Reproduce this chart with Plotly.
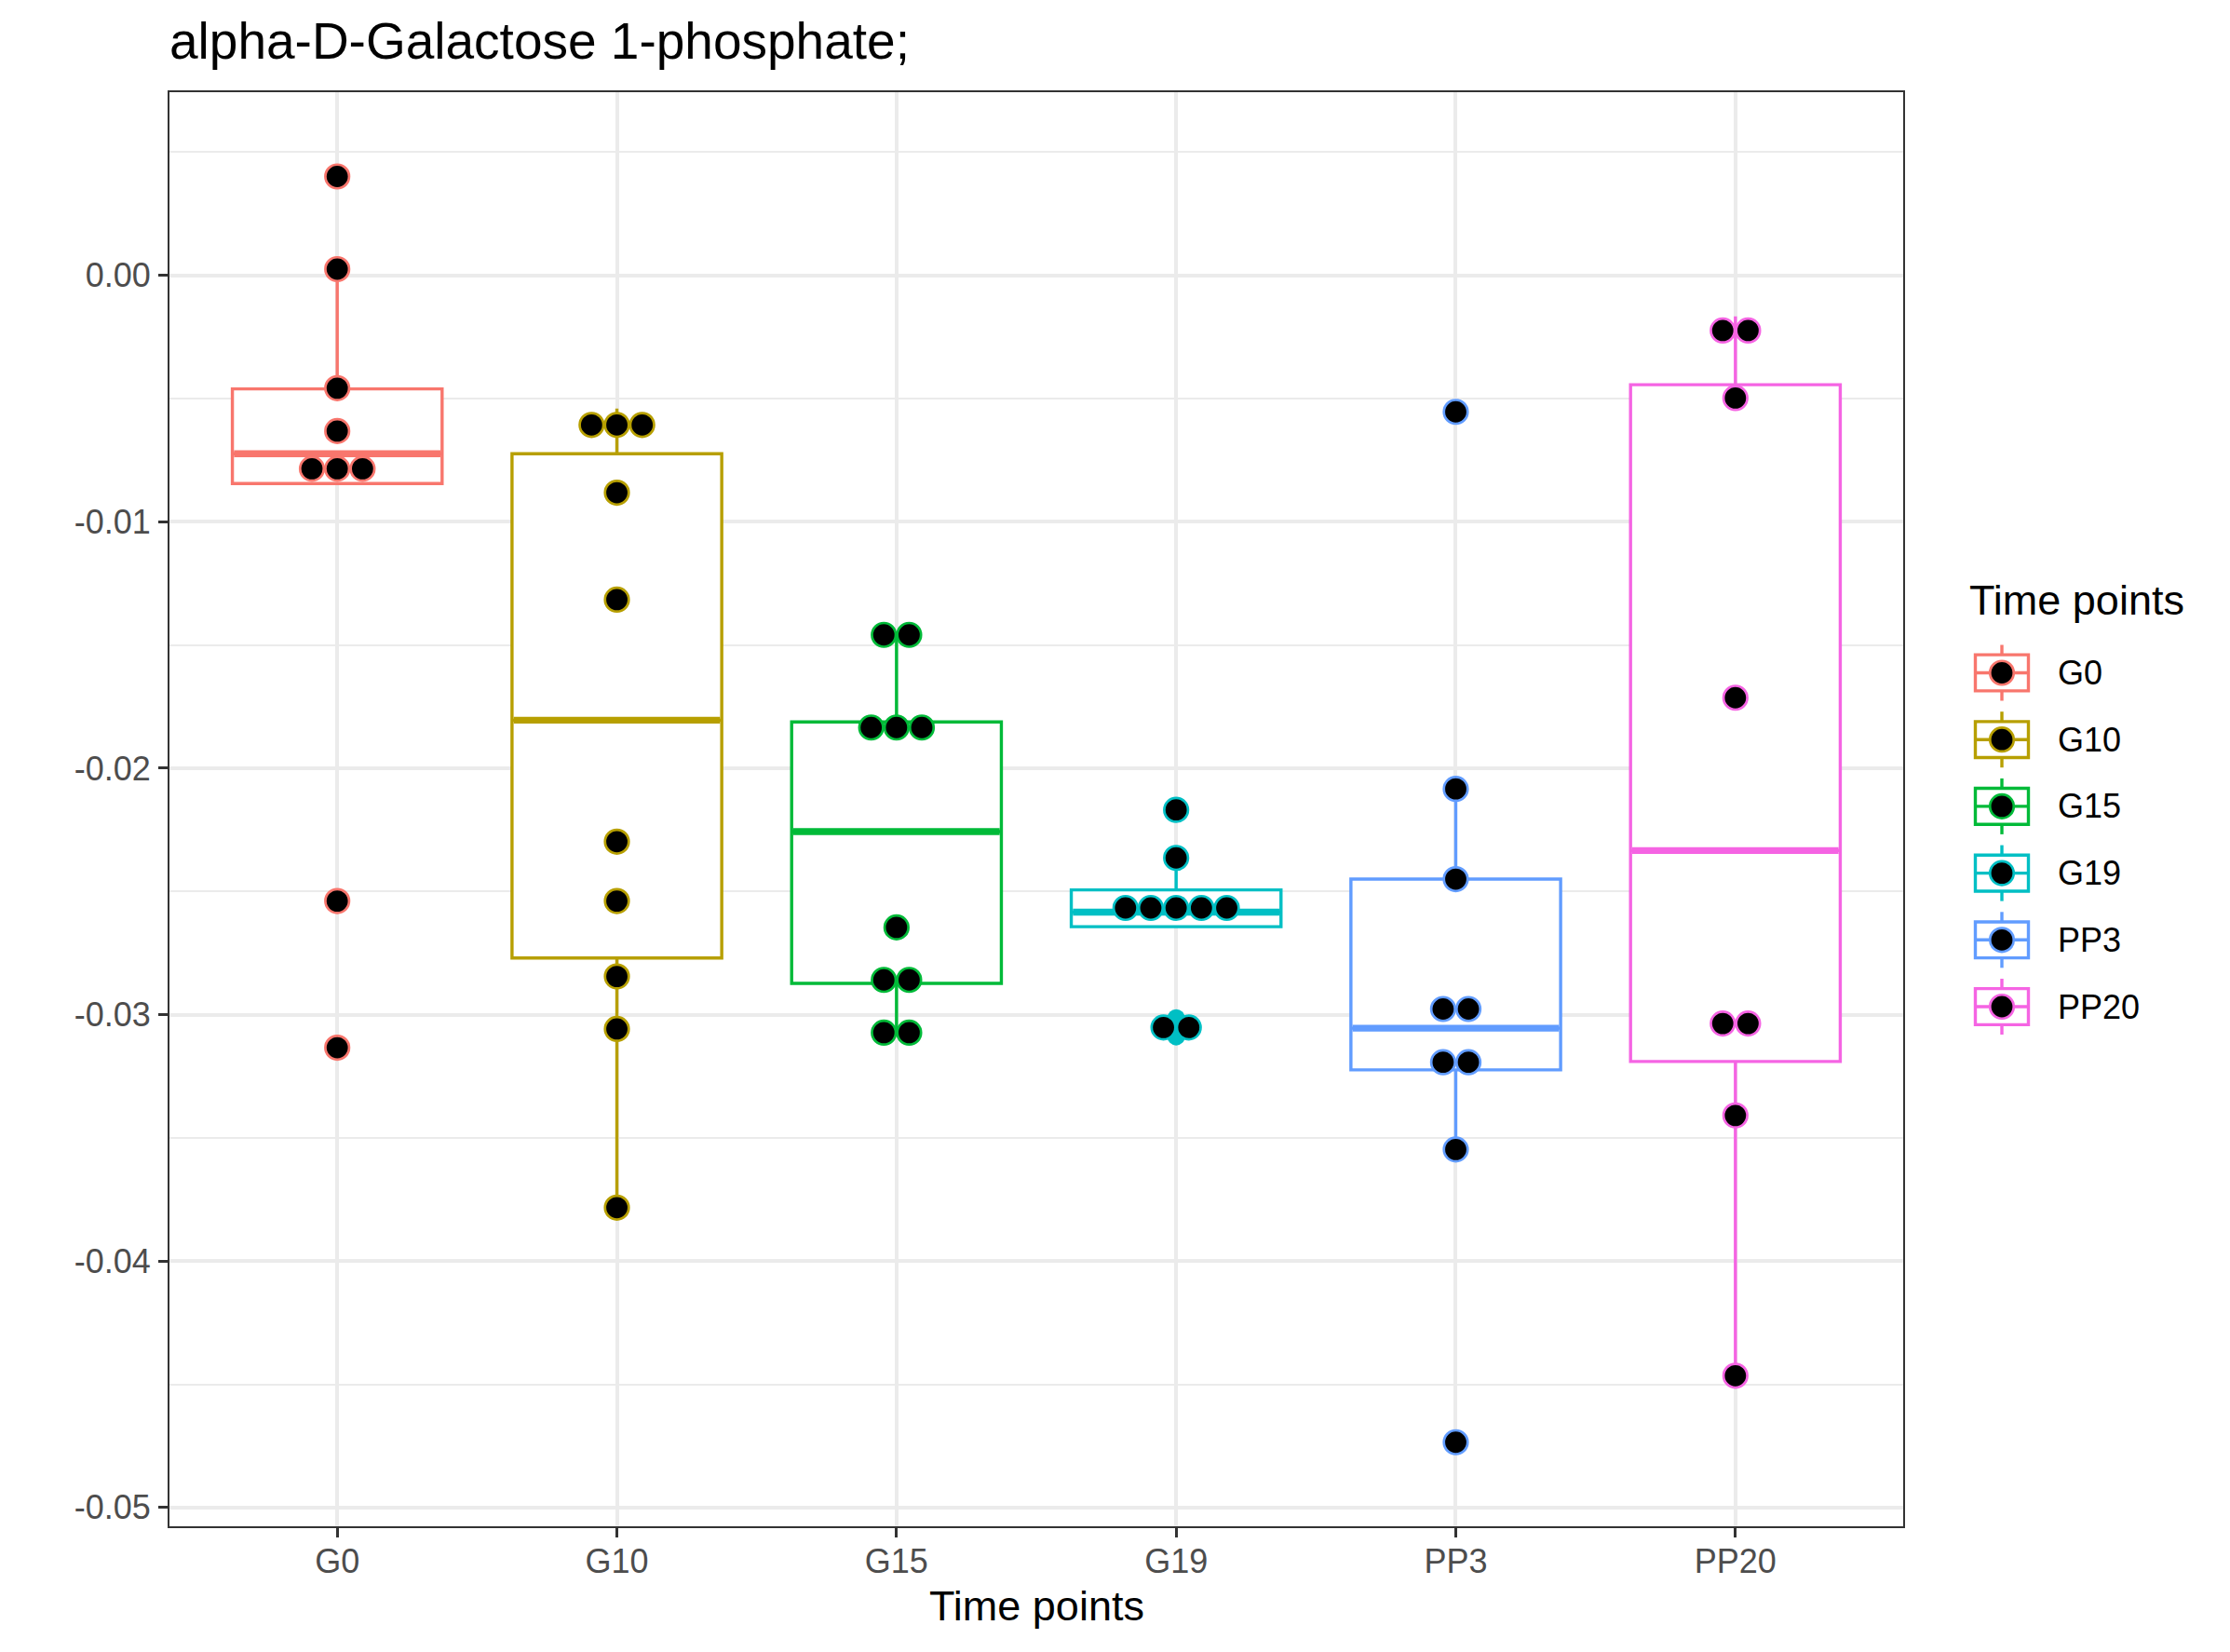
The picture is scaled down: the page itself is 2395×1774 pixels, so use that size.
import plotly.graph_objects as go

# ---------------- data ----------------
categories = ["G0", "G10", "G15", "G19", "PP3", "PP20"]
colors = ["#F8766D", "#B79F00", "#00BA38", "#00BFC4", "#619CFF", "#F564E3"]

dots_G0 = [0.00401, 0.00025, -0.00458, -0.00632, -0.00785, -0.00785, -0.00785, -0.02539, -0.03134]
dots_G10 = [-0.00607, -0.00607, -0.00607, -0.00882, -0.01316, -0.02298, -0.02539, -0.02845, -0.03058, -0.03783]
dots_G15 = [-0.01459, -0.01459, -0.01835, -0.01835, -0.01835, -0.02646, -0.02859, -0.02859, -0.03073, -0.03073]
dots_G19 = [-0.02169, -0.02364, -0.02567, -0.02567, -0.02567, -0.02567, -0.02567, -0.03052, -0.03052]
dots_PP3 = [-0.00554, -0.02084, -0.02450, -0.02977, -0.02977, -0.03193, -0.03193, -0.03547, -0.04735]
dots_PP20 = [-0.00224, -0.00224, -0.00498, -0.01714, -0.03036, -0.03036, -0.03409, -0.04465]
dots_by_group = [dots_G0, dots_G10, dots_G15, dots_G19, dots_PP3, dots_PP20]

box_q1 = [-0.00845, -0.02770, -0.02873, -0.02643, -0.03224, -0.03190]
box_median = [-0.00724, -0.01805, -0.02257, -0.02584, -0.03055, -0.02334]
box_q3 = [-0.00461, -0.00724, -0.01812, -0.02494, -0.02450, -0.00444]
whisker_low = [-0.00845, -0.03783, -0.03073, -0.02643, -0.03547, -0.04465]
whisker_high = [0.00025, -0.00541, -0.01459, -0.02364, -0.02084, -0.00167]

outlier_group = ["G19", "G19"]
outlier_values = [-0.03014, -0.03089]

y_tick_vals = [0.00, -0.01, -0.02, -0.03, -0.04, -0.05]
y_tick_text = ["0.00", "-0.01", "-0.02", "-0.03", "-0.04", "-0.05"]
y_minor_vals = [0.005, -0.005, -0.015, -0.025, -0.035, -0.045]
y_range = [-0.05076, 0.00743]

title_text = "alpha-D-Galactose 1-phosphate;"
x_title = "Time points"
legend_title = "Time points"

# ---------------- styling ----------------
W, H = 2395, 1774
ML, MR, MT, MB = 182, 351, 99, 135
PW, PH = W - ML - MR, H - MT - MB
FONT = "Liberation Sans, Arial, Helvetica, sans-serif"
BOX_W = 0.75
DOT_STEP = 0.0905      # horizontal stacking step in category units
DOT_SIZE = 25.5
DOT_LINE = 2.7
LINE_W = 3.4
MED_W = 7.4
GRID = "#EBEBEB"

def px_x(px):
    return (px - ML) / PW

def px_y(py):
    return (MT + PH - py) / PH

fig = go.Figure()

# boxes
for i, cat in enumerate(categories):
    fig.add_trace(go.Box(
        x=[i], q1=[box_q1[i]], median=[box_median[i]], q3=[box_q3[i]],
        lowerfence=[whisker_low[i]], upperfence=[whisker_high[i]],
        width=BOX_W, whiskerwidth=0, boxpoints=False,
        line=dict(color=colors[i], width=LINE_W), fillcolor="white",
        showlegend=False, hoverinfo="skip"))
    # thicker median (ggplot fatten = 2)
    fig.add_trace(go.Scatter(
        x=[i - BOX_W / 2 + 0.006, i + BOX_W / 2 - 0.006], y=[box_median[i]] * 2,
        mode="lines", line=dict(color=colors[i], width=MED_W),
        showlegend=False, hoverinfo="skip"))

# boxplot outliers (visible only where not covered by dots)
for g, v in zip(outlier_group, outlier_values):
    i = categories.index(g)
    fig.add_trace(go.Scatter(
        x=[i], y=[v], mode="markers",
        marker=dict(color=colors[i], size=19, line=dict(width=0)),
        showlegend=False, hoverinfo="skip"))

# dot plots (stacked, centred)
for i, vals in enumerate(dots_by_group):
    counts = {}
    for v in vals:
        counts[v] = counts.get(v, 0) + 1
    xs, ys = [], []
    for v, n in counts.items():
        for k in range(n):
            xs.append(i + (k - (n - 1) / 2) * DOT_STEP)
            ys.append(v)
    fig.add_trace(go.Scatter(
        x=xs, y=ys, mode="markers",
        marker=dict(color="black", size=DOT_SIZE, line=dict(color=colors[i], width=DOT_LINE)),
        showlegend=False, name=categories[i]))

# ---------------- manual legend ----------------
shapes = []
annotations = []
key_cx = 2150
key_y0 = 722.5
key_step = 71.7
key_w, key_h = 57, 38.7
whisk_half = 30
for i, cat in enumerate(categories):
    cy = key_y0 + i * key_step
    c = colors[i]
    shapes.append(dict(type="line", xref="paper", yref="paper",
                       x0=px_x(key_cx), x1=px_x(key_cx),
                       y0=px_y(cy - whisk_half), y1=px_y(cy + whisk_half),
                       line=dict(color=c, width=LINE_W)))
    shapes.append(dict(type="rect", xref="paper", yref="paper",
                       x0=px_x(key_cx - key_w / 2), x1=px_x(key_cx + key_w / 2),
                       y0=px_y(cy - key_h / 2), y1=px_y(cy + key_h / 2),
                       fillcolor="white", line=dict(color=c, width=LINE_W)))
    shapes.append(dict(type="line", xref="paper", yref="paper",
                       x0=px_x(key_cx - key_w / 2), x1=px_x(key_cx + key_w / 2),
                       y0=px_y(cy), y1=px_y(cy),
                       line=dict(color=c, width=LINE_W)))
    r = DOT_SIZE / 2
    shapes.append(dict(type="circle", xref="paper", yref="paper",
                       x0=px_x(key_cx - r), x1=px_x(key_cx + r),
                       y0=px_y(cy + r), y1=px_y(cy - r),
                       fillcolor="black", line=dict(color=c, width=DOT_LINE)))
    annotations.append(dict(xref="paper", yref="paper", x=px_x(2208), y=px_y(cy),
                            xanchor="left", yanchor="middle", showarrow=False,
                            text=cat, font=dict(family=FONT, size=36, color="black")))

annotations.append(dict(xref="paper", yref="paper", x=px_x(2113), y=px_y(645),
                        xanchor="left", yanchor="middle", showarrow=False,
                        text=legend_title, font=dict(family=FONT, size=45, color="black")))
annotations.append(dict(xref="paper", yref="paper", x=px_x(180), y=px_y(44),
                        xanchor="left", yanchor="middle", showarrow=False,
                        text=title_text, font=dict(family=FONT, size=55, color="black")))
annotations.append(dict(xref="paper", yref="paper", x=0.5, y=px_y(1724),
                        xanchor="center", yanchor="middle", showarrow=False,
                        text=x_title, font=dict(family=FONT, size=45, color="black")))

fig.update_layout(
    width=W, height=H,
    margin=dict(l=ML, r=MR, t=MT, b=MB, pad=0),
    paper_bgcolor="white", plot_bgcolor="white",
    showlegend=False,
    shapes=shapes, annotations=annotations,
    font=dict(family=FONT),
)
fig.update_xaxes(
    range=[-0.6, len(categories) - 0.4], tickmode="array",
    tickvals=list(range(len(categories))), ticktext=categories,
    showgrid=True, gridcolor=GRID, gridwidth=3.9, zeroline=False,
    showline=True, mirror=True, linecolor="#333333", linewidth=2,
    ticks="outside", ticklen=10, tickwidth=2.7, tickcolor="#333333",
    tickfont=dict(family=FONT, size=36, color="#4D4D4D"), ticklabelstandoff=-5,
)
fig.update_yaxes(
    range=y_range, tickmode="array", tickvals=y_tick_vals, ticktext=y_tick_text,
    showgrid=True, gridcolor=GRID, gridwidth=3.9, zeroline=False,
    minor=dict(tickmode="array", tickvals=y_minor_vals, showgrid=True,
               gridcolor=GRID, gridwidth=2, ticks=""),
    showline=True, mirror=True, linecolor="#333333", linewidth=2,
    ticks="outside", ticklen=10, tickwidth=2.7, tickcolor="#333333",
    tickfont=dict(family=FONT, size=36, color="#4D4D4D"), ticklabelstandoff=1,
)

fig.write_html("out.html", config={"displayModeBar": False},
               post_script="document.body.style.margin='0px';")
